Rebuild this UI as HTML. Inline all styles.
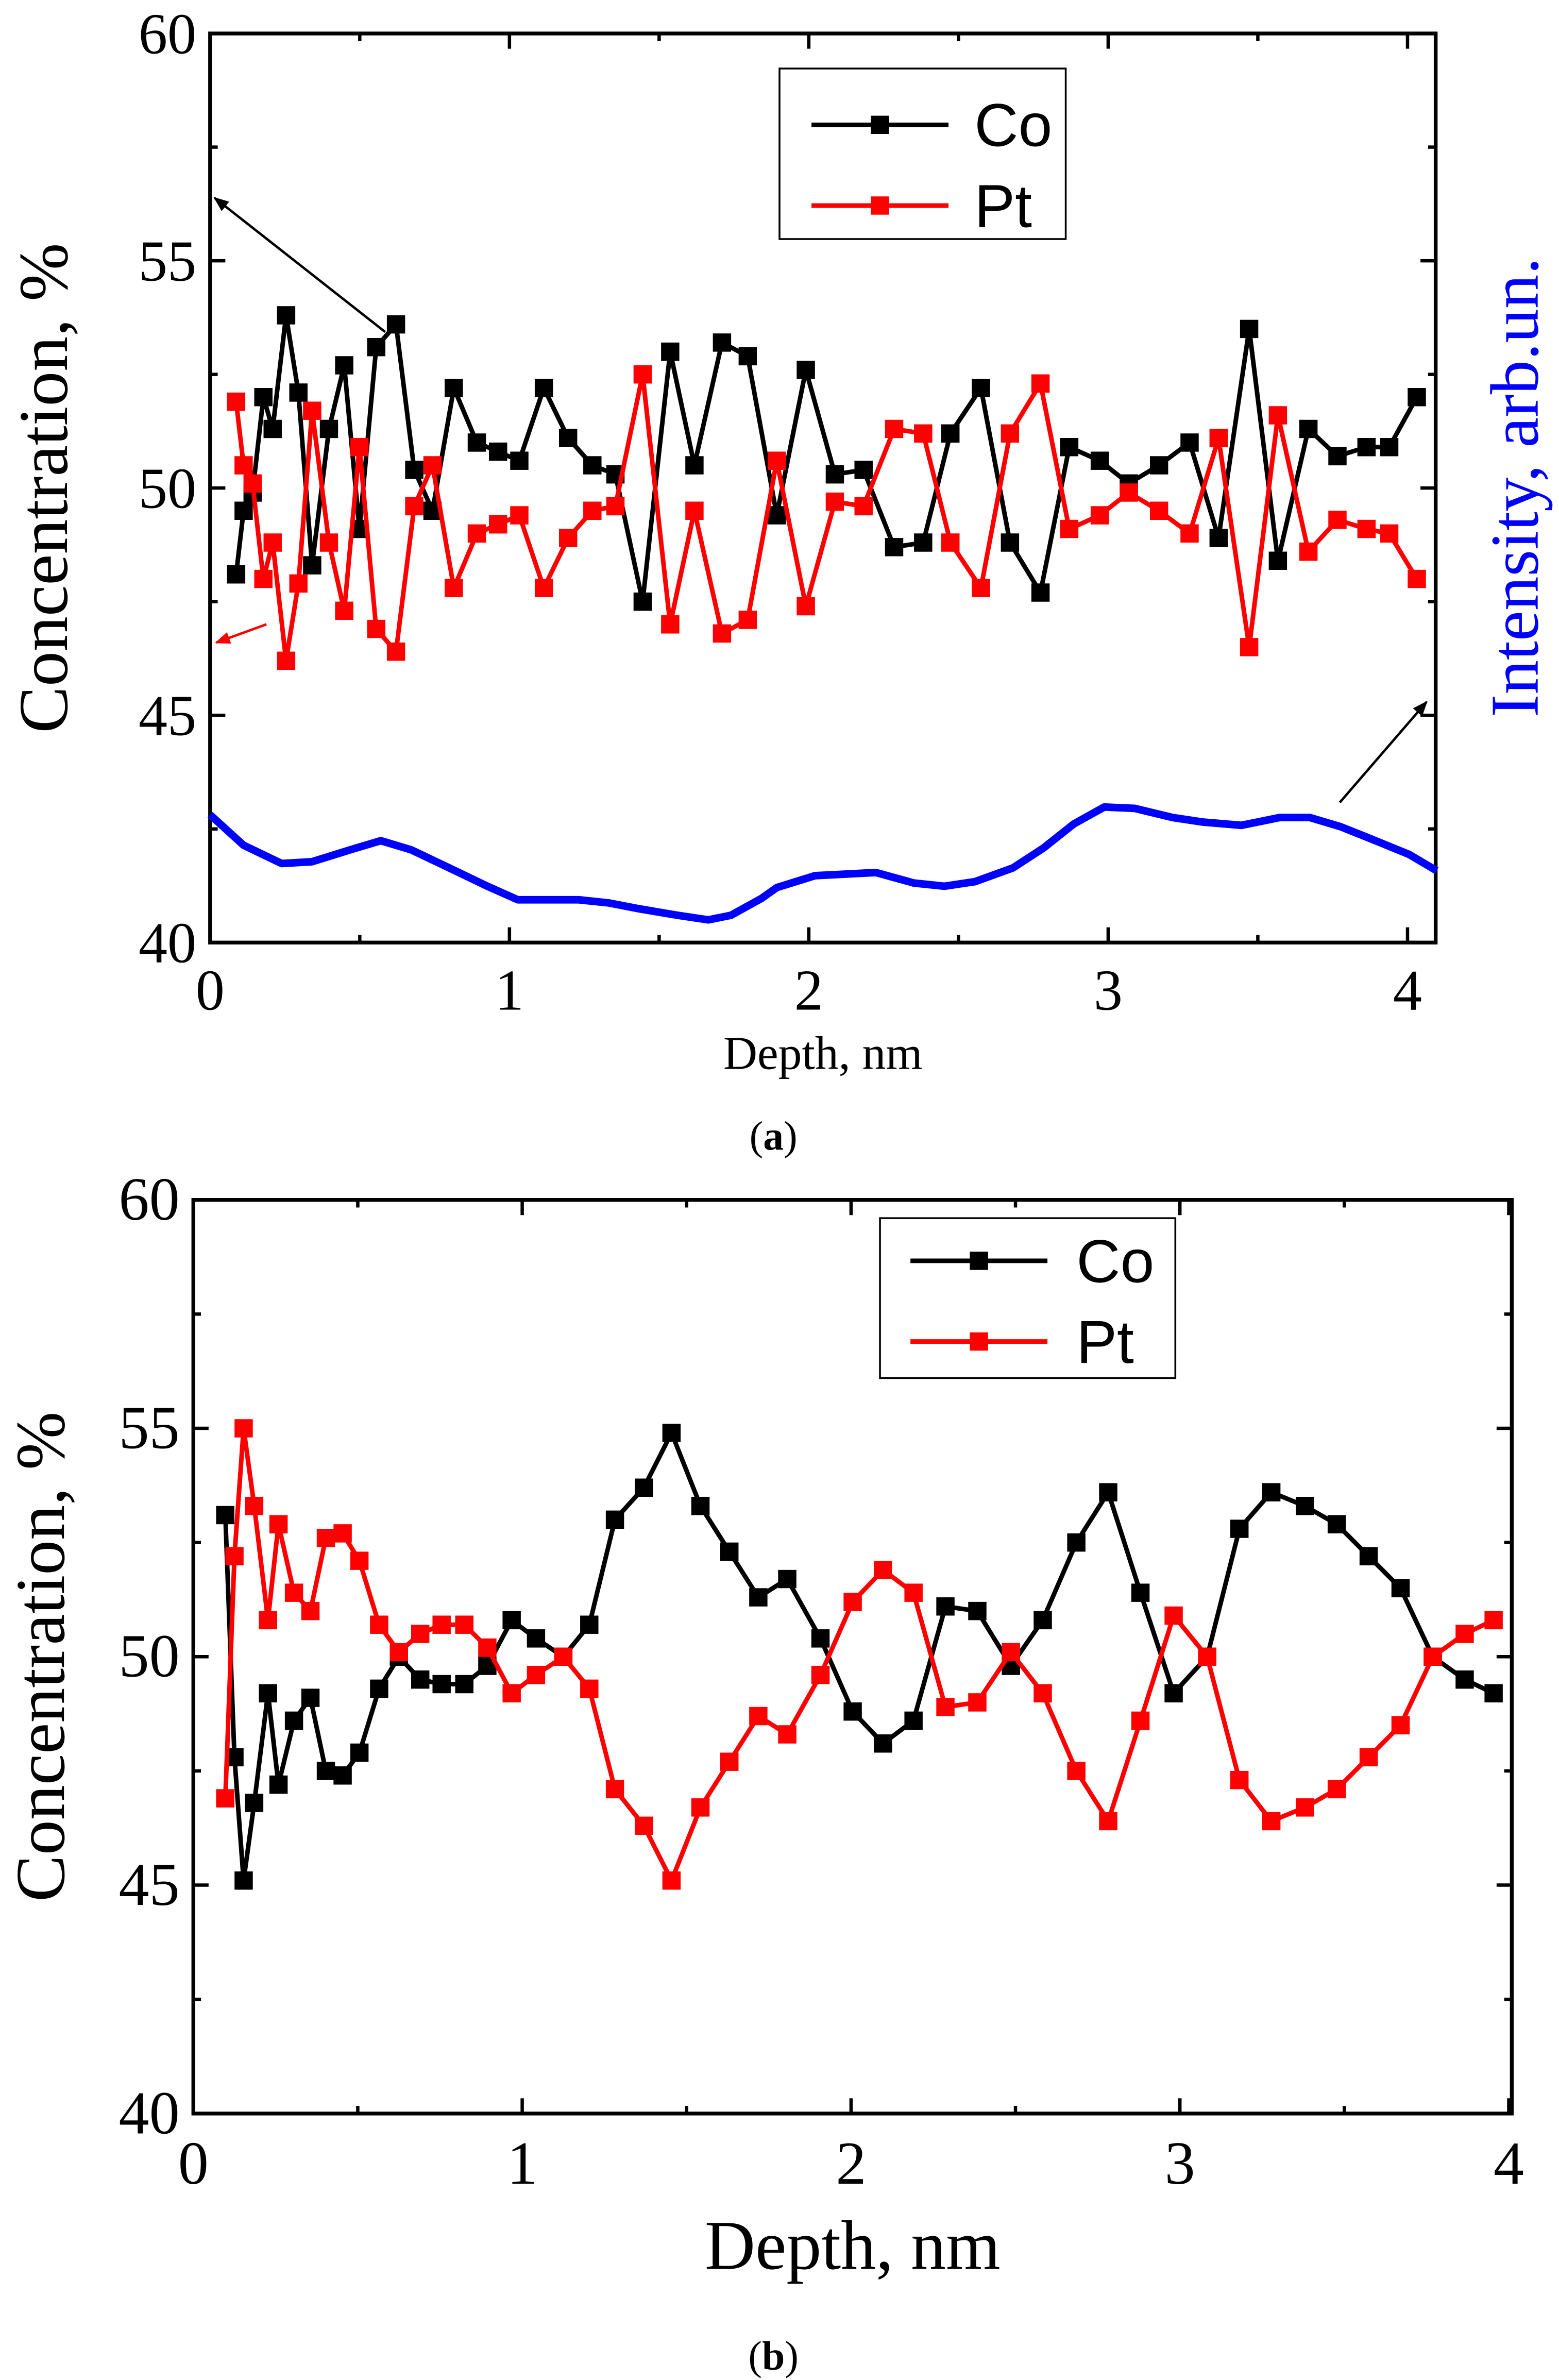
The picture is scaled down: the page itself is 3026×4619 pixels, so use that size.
<!DOCTYPE html>
<html><head><meta charset="utf-8"><style>
html,body{margin:0;padding:0;background:#fff;}
svg{display:block;}
text{font-family:"Liberation Serif",serif;}
.sans{font-family:"Liberation Sans",sans-serif;}
</style></head><body>
<svg id="chart" width="3026" height="4619" viewBox="0 0 1024 1563" preserveAspectRatio="none" xmlns="http://www.w3.org/2000/svg">
<defs>
<marker id="ahK" markerWidth="10" markerHeight="8" refX="9" refY="4" orient="auto" markerUnits="userSpaceOnUse"><path d="M0,0 L10,4 L0,8 z" fill="#000"/></marker>
<marker id="ahR" markerWidth="10" markerHeight="8" refX="9" refY="4" orient="auto" markerUnits="userSpaceOnUse"><path d="M0,0 L10,4 L0,8 z" fill="#f00"/></marker>
</defs>
<g id="gA"></g>
<g id="gB"></g>
</svg>
<script>
// Panel (a) data
const depthA=[0.087,0.112,0.142,0.178,0.209,0.254,0.295,0.341,0.397,0.448,0.499,0.555,0.621,0.682,0.743,0.814,0.891,0.962,1.033,1.115,1.196,1.277,1.354,1.445,1.537,1.618,1.710,1.796,1.893,1.990,2.087,2.183,2.285,2.382,2.473,2.575,2.672,2.774,2.870,2.972,3.069,3.170,3.272,3.369,3.471,3.567,3.669,3.766,3.863,3.939,4.031];
const coA=[48.1,49.5,49.9,52.0,51.3,53.8,52.1,48.3,51.3,52.7,49.1,53.1,53.6,50.4,49.5,52.2,51.0,50.8,50.6,52.2,51.1,50.5,50.3,47.5,53.0,50.5,53.2,52.9,49.4,52.6,50.3,50.4,48.7,48.8,51.2,52.2,48.8,47.7,50.9,50.6,50.1,50.5,51.0,48.9,53.5,48.4,51.3,50.7,50.9,50.9,52.0];
const ptA=[51.9,50.5,50.1,48.0,48.8,46.2,47.9,51.7,48.8,47.3,50.9,46.9,46.4,49.6,50.5,47.8,49.0,49.2,49.4,47.8,48.9,49.5,49.6,52.5,47.0,49.5,46.8,47.1,50.6,47.4,49.7,49.6,51.3,51.2,48.8,47.8,51.2,52.3,49.1,49.4,49.9,49.5,49.0,51.1,46.5,51.6,48.6,49.3,49.1,49.0,48.0];
const intDepth=[0,0.112,0.239,0.341,0.468,0.570,0.672,0.799,0.926,1.028,1.130,1.232,1.333,1.435,1.562,1.664,1.740,1.842,1.893,2.020,2.224,2.351,2.453,2.555,2.682,2.784,2.885,2.987,3.089,3.216,3.318,3.445,3.573,3.674,3.776,3.878,4.005,4.097];
const intensity=[42.81,42.14,41.74,41.78,42.04,42.24,42.04,41.64,41.24,40.94,40.94,40.94,40.87,40.74,40.60,40.50,40.60,40.97,41.21,41.47,41.54,41.31,41.24,41.34,41.64,42.08,42.61,42.98,42.95,42.75,42.65,42.58,42.75,42.75,42.55,42.28,41.94,41.58];
// Panel (b) data
const depthB=[0.097,0.125,0.153,0.185,0.227,0.259,0.306,0.356,0.403,0.454,0.505,0.565,0.625,0.690,0.755,0.824,0.894,0.968,1.042,1.125,1.204,1.282,1.370,1.454,1.542,1.630,1.718,1.806,1.907,2.005,2.097,2.190,2.287,2.384,2.486,2.583,2.685,2.782,2.880,2.981,3.083,3.181,3.278,3.380,3.477,3.574,3.671,3.769,3.866,3.954];
const coB=[53.1,47.8,45.1,46.8,49.2,47.2,48.6,49.1,47.5,47.4,47.9,49.3,50.0,49.5,49.4,49.4,49.8,50.8,50.4,50.0,50.7,53.0,53.7,54.9,53.3,52.3,51.3,51.7,50.4,48.8,48.1,48.6,51.1,51.0,49.8,50.8,52.5,53.6,51.4,49.2,50.0,52.8,53.6,53.3,52.9,52.2,51.5,50.0,49.5,49.2];
const ptB=[46.9,52.2,55.0,53.3,50.8,52.9,51.4,51.0,52.6,52.7,52.1,50.7,50.1,50.5,50.7,50.7,50.2,49.2,49.6,50.0,49.3,47.1,46.3,45.1,46.7,47.7,48.7,48.3,49.6,51.2,51.9,51.4,48.9,49.0,50.1,49.2,47.5,46.4,48.6,50.9,50.0,47.3,46.4,46.7,47.1,47.8,48.5,50.0,50.5,50.8];
const yTicks=[40,45,50,55,60];
const xTicks=[0,1,2,3,4];

const NS="http://www.w3.org/2000/svg";
function mk(parent,tag,attrs,txt){const e=document.createElementNS(NS,tag);for(const k in attrs)e.setAttribute(k,attrs[k]);if(txt!==undefined)e.textContent=txt;parent.appendChild(e);return e;}

function panel(g,cfg){
  const X=d=>cfg.x0+(d-cfg.xmin)*(cfg.x1-cfg.x0)/(cfg.xmax-cfg.xmin);
  const Y=v=>cfg.y1-(v-40)*(cfg.y1-cfg.y0)/20;
  const ax=mk(g,'g',{});
  
  
  const frame=mk(ax,'rect',{x:cfg.x0,y:cfg.y0,width:cfg.bw-cfg.x0,height:cfg.y1-cfg.y0,fill:'none',stroke:'#000','stroke-width':2.5});
  
  
  for(let v=40;v<=60;v+=2.5){
    const maj=(v%5===0), L=maj?10:5;
    mk(ax,'line',{x1:cfg.x0,x2:cfg.x0+L,y1:Y(v),y2:Y(v),stroke:'#000','stroke-width':2.2});
    mk(ax,'line',{x1:cfg.bw,x2:cfg.bw-L,y1:Y(v),y2:Y(v),stroke:'#000','stroke-width':2.2});
  }
  yTicks.forEach(v=>{const t=mk(ax,'text',{x:cfg.x0-9,y:Y(v)+13,'text-anchor':'end','font-size':cfg.tickFs},String(v));
    
    });
  for(let d=0;d<=cfg.xmax+0.001;d+=0.5){
    const maj=(Math.abs(d-Math.round(d))<1e-6), L=maj?10:5;
    if(X(d)>cfg.bw)continue;
    mk(ax,'line',{x1:X(d),x2:X(d),y1:cfg.y1,y2:cfg.y1-L,stroke:'#000','stroke-width':2.2});
    mk(ax,'line',{x1:X(d),x2:X(d),y1:cfg.y0,y2:cfg.y0+L,stroke:'#000','stroke-width':2.2});
  }
  xTicks.forEach(d=>{const t=mk(ax,'text',{x:X(d),y:cfg.y1+cfg.tickFs+6,'text-anchor':'middle','font-size':cfg.tickFs},String(d));
    
    });
  const yt=mk(ax,'text',{x:0,y:0,'text-anchor':'middle','font-size':cfg.ytFs,transform:`translate(${cfg.ytX},${(cfg.y0+cfg.y1)/2}) rotate(-90)`},'Concentration, %');
  
  
  const xt=mk(ax,'text',{x:(cfg.x0+cfg.bw)/2,y:cfg.xtY,'text-anchor':'middle','font-size':cfg.xtFs},'Depth, nm');
  
  
  return {X,Y};
}
function series(g,X,Y,xs,ys,color,name,ms){
  const s=mk(g,'g',{});
  
  
  const pts=xs.map((d,i)=>X(d).toFixed(1)+','+Y(ys[i]).toFixed(1)).join(' ');
  mk(s,'polyline',{points:pts,fill:'none',stroke:color,'stroke-width':3,'stroke-linejoin':'miter'});
  xs.forEach((d,i)=>{const r=mk(s,'rect',{x:X(d)-ms/2,y:Y(ys[i])-ms/2,width:ms,height:ms,fill:color});
    
    });
}
function legend(g,bx,by,bw,bh,rows){
  const l=mk(g,'g',{});
  
  
  mk(l,'rect',{x:bx,y:by,width:bw,height:bh,fill:'#fff',stroke:'#000','stroke-width':1.2});
  rows.forEach(r=>{
    const e=mk(l,'g',{});
    
    
    mk(e,'line',{x1:r.lx1,x2:r.lx2,y1:r.y,y2:r.y,stroke:r.c,'stroke-width':3});
    mk(e,'rect',{x:(r.lx1+r.lx2)/2-6,y:r.y-6,width:12,height:12,fill:r.c});
    mk(e,'text',{x:r.tx,y:r.y+14,'font-size':40,class:'sans'},r.label);
  });
}

// Panel A
const gA=document.getElementById('gA');
const A=panel(gA,{x0:138,x1:924.5,xmin:0,xmax:4,bw:943,y0:22,y1:619,tickFs:38,ytFs:46,ytX:44,xtFs:31,xtY:702});
const blue=mk(gA,'polyline',{points:intDepth.map((d,i)=>A.X(d).toFixed(1)+','+A.Y(intensity[i]).toFixed(1)).join(' '),fill:'none',stroke:'#0000ff','stroke-width':5,'stroke-linejoin':'round'});


series(gA,A.X,A.Y,depthA,coA,'#000','co-series',12);
series(gA,A.X,A.Y,depthA,ptA,'#f00','pt-series',12);
legend(gA,512,45,188,112,[{label:'Co',c:'#000',y:82,lx1:533,lx2:623,tx:640},{label:'Pt',c:'#f00',y:135,lx1:533,lx2:623,tx:640}]);
const ar1=mk(gA,'line',{x1:253,y1:218,x2:141,y2:130,stroke:'#000','stroke-width':1.6,'marker-end':'url(#ahK)'});


const ar2=mk(gA,'line',{x1:175,y1:410,x2:142,y2:422,stroke:'#f00','stroke-width':1.6,'marker-end':'url(#ahR)'});


const ar3=mk(gA,'line',{x1:880,y1:527,x2:937,y2:461,stroke:'#000','stroke-width':1.6,'marker-end':'url(#ahK)'});


const yr=mk(gA,'text',{x:0,y:0,'text-anchor':'middle','font-size':45,fill:'#0000ff',transform:'translate(1010,320) rotate(-90)'},'Intensity, arb.un.');


const capA=mk(gA,'text',{x:508,y:755,'text-anchor':'middle','font-size':27},'');
capA.innerHTML='(<tspan font-weight="bold">a</tspan>)';



// Panel B
const gB=document.getElementById('gB');
const B=panel(gB,{x0:127,x1:991,xmin:0,xmax:4,bw:993,y0:788,y1:1388,tickFs:40,ytFs:46,ytX:42,xtFs:46,xtY:1490});
series(gB,B.X,B.Y,depthB,coB,'#000','co-series',12);
series(gB,B.X,B.Y,depthB,ptB,'#f00','pt-series',12);
legend(gB,578,800,194,105,[{label:'Co',c:'#000',y:828,lx1:598,lx2:688,tx:707},{label:'Pt',c:'#f00',y:881,lx1:598,lx2:688,tx:707}]);
const capB=mk(gB,'text',{x:508,y:1556,'text-anchor':'middle','font-size':27},'');
capB.innerHTML='(<tspan font-weight="bold">b</tspan>)';


</script>
</body></html>
